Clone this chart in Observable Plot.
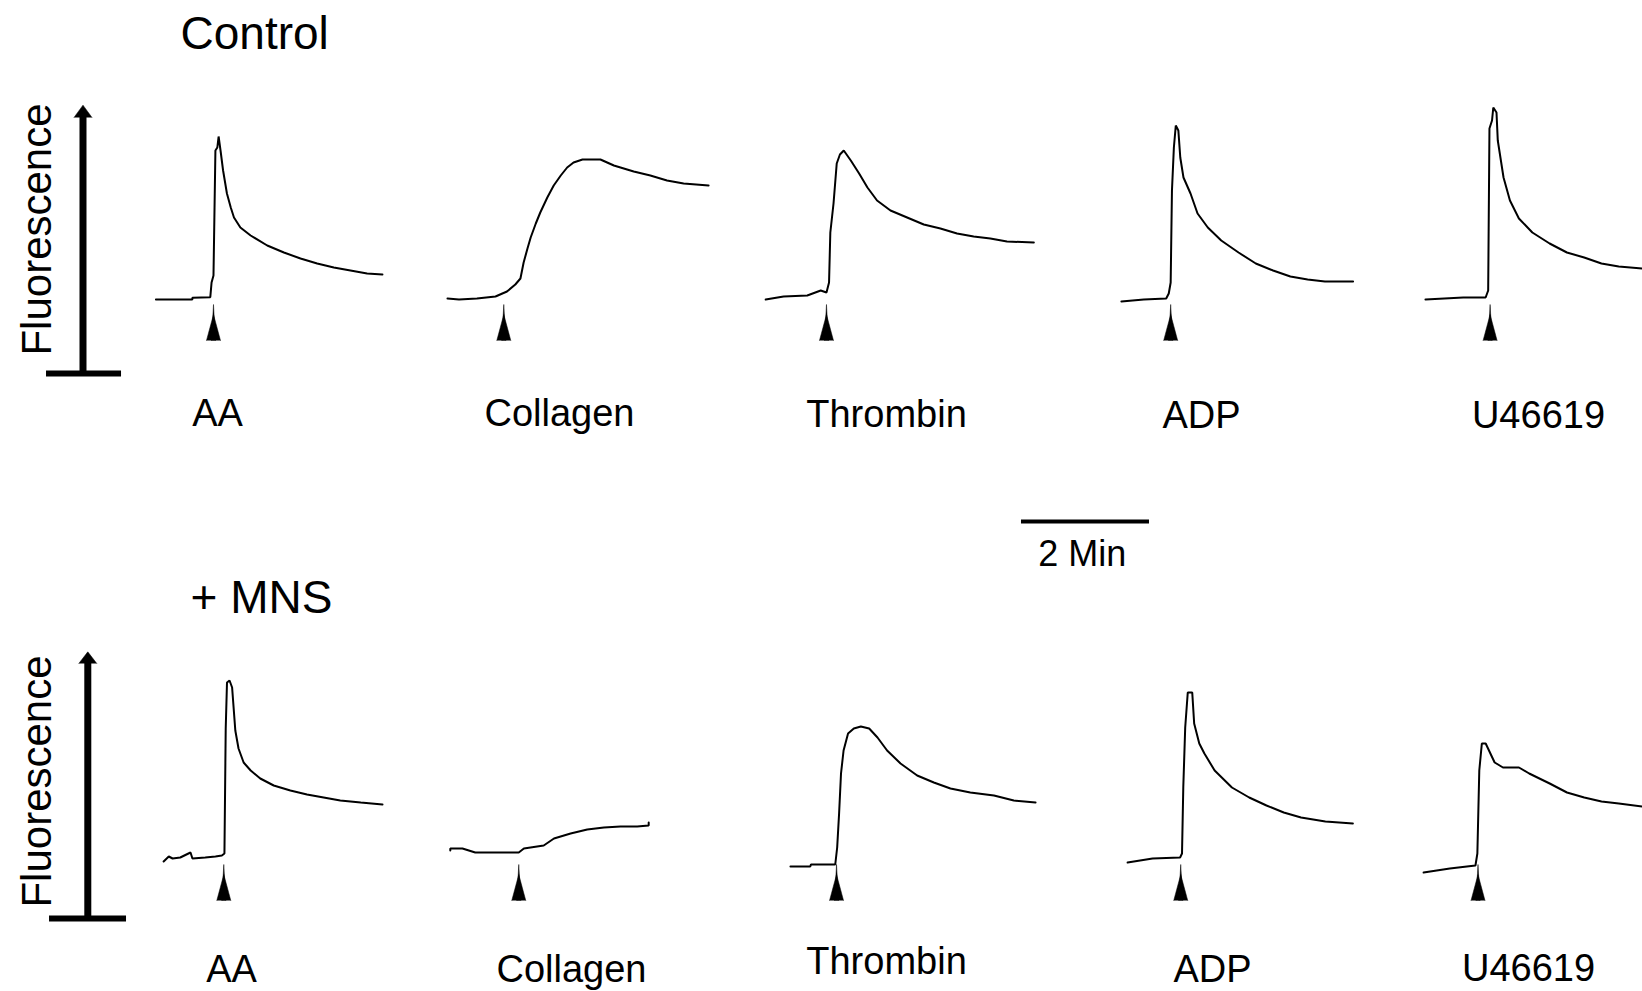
<!DOCTYPE html>
<html>
<head>
<meta charset="utf-8">
<script src="https://cdn.jsdelivr.net/npm/d3@7"></script>
<script src="https://cdn.jsdelivr.net/npm/@observablehq/plot@0.6"></script>
<style>
  html, body { margin: 0; padding: 0; background: #fff; overflow: hidden; }
  #chart svg { display: block; }
</style>
</head>
<body>
<div id="chart"></div>
<script>
// ---------- data ----------
const conditions = ["Control", "+ MNS"];
const agonists = ["AA", "Collagen", "Thrombin", "ADP", "U46619"];
const axisLabel = "Fluorescence";
const scaleBarMinutes = 2;
const scaleBarLabel = "2 Min";

// each trace: [time from agonist addition (min), fluorescence above baseline (a.u.)]
const controlAA = [[-0.90,0],[-0.33,0],[-0.33,1.7],[-0.05,2.3],[-0.03,17],[0.0,24],[0.03,149],[0.06,152],[0.08,163],[0.11,149],[0.15,129],[0.21,106],[0.27,92],[0.32,82],[0.42,72],[0.58,64],[0.84,54],[1.10,47],[1.36,41],[1.62,36],[1.88,32],[2.14,29],[2.40,26],[2.64,25]];
const controlCollagen = [[-0.88,1],[-0.70,0],[-0.42,1],[-0.13,3],[0.05,8],[0.18,15],[0.26,21],[0.31,37],[0.37,51],[0.42,62],[0.50,76],[0.57,87],[0.68,102],[0.78,114],[0.89,124],[0.99,132],[1.09,137],[1.23,140],[1.51,140],[1.72,134],[2.03,128],[2.29,124],[2.55,119],[2.81,116],[3.20,114]];
const controlThrombin = [[-0.95,0],[-0.67,3],[-0.30,4],[-0.09,9],[0,7],[0.04,17],[0.06,67],[0.11,96],[0.16,136],[0.21,145],[0.27,149],[0.38,139],[0.51,126],[0.64,112],[0.79,99],[1.00,89],[1.26,82],[1.52,75],[1.78,71],[2.04,66],[2.30,63],[2.56,61],[2.82,58],[3.24,57]];
const controlADP = [[-0.77,-2],[-0.42,0],[-0.07,1],[-0.03,6],[0,17],[0.02,109],[0.05,152],[0.08,174],[0.12,169],[0.15,142],[0.20,122],[0.31,106],[0.42,86],[0.58,72],[0.79,59],[1.06,47],[1.33,36],[1.60,29],[1.87,23],[2.14,20],[2.41,18],[2.85,18]];
const controlU46619 = [[-1.01,0],[-0.42,2],[-0.07,2],[-0.03,9],[-0.01,171],[0.03,179],[0.05,192],[0.10,187],[0.12,159],[0.21,122],[0.31,99],[0.45,81],[0.66,67],[0.93,56],[1.20,47],[1.47,42],[1.74,36],[2.01,33],[2.38,31]];

const mnsAA = [[-0.94,-1],[-0.86,4],[-0.80,2],[-0.68,3],[-0.52,8],[-0.49,2],[-0.29,3],[-0.13,4],[-0.03,5],[0.01,7],[0.03,132],[0.05,178],[0.09,180],[0.13,173],[0.18,130],[0.23,112],[0.31,98],[0.42,90],[0.57,82],[0.78,75],[1.04,70],[1.30,66],[1.56,63],[1.82,60],[2.14,58],[2.48,56]];
const mnsCollagen = [[-1.07,10],[-1.07,12],[-0.88,12],[-0.68,8],[0,8],[0.08,12],[0.39,15],[0.55,22],[0.81,27],[1.07,31],[1.33,33],[1.59,34],[1.85,34],[2.03,35],[2.03,38]];
const mnsThrombin = [[-0.72,-6],[-0.41,-6],[-0.40,-4],[-0.02,-4],[0.01,13],[0.04,47],[0.07,87],[0.11,110],[0.18,127],[0.27,132],[0.38,134],[0.51,132],[0.64,123],[0.79,110],[1.00,97],[1.26,85],[1.52,78],[1.78,72],[2.09,68],[2.46,65],[2.77,60],[3.11,58]];
const mnsADP = [[-0.83,-2],[-0.44,2],[-0.01,3],[0.02,7],[0.04,73],[0.07,133],[0.11,168],[0.18,168],[0.21,137],[0.29,117],[0.37,107],[0.53,90],[0.80,73],[1.07,63],[1.34,55],[1.61,48],[1.88,43],[2.26,39],[2.69,37]];
const mnsU46619 = [[-0.85,-12],[-0.44,-8],[-0.04,-5],[-0.01,7],[0.02,90],[0.06,117],[0.12,117],[0.26,98],[0.39,93],[0.64,93],[0.80,87],[1.12,77],[1.39,68],[1.66,63],[1.93,59],[2.20,57],[2.57,54]];

const traces = [
  [controlAA, controlCollagen, controlThrombin, controlADP, controlU46619],
  [mnsAA, mnsCollagen, mnsThrombin, mnsADP, mnsU46619]
];

// ---------- layout (figure time axis in min, vertical axis in a.u.) ----------
const W = 1642, H = 991, PX_PER_MIN = 64;
const rowBase = [692, 131];                 // baseline of each row
const addAt = [[3.328, 7.864, 12.906, 18.284, 23.275],
               [3.489, 8.098, 13.063, 18.441, 23.086]];   // agonist addition
const arrowBase = [-41, -40];               // injection marker below baseline
const labelAt = [[3.391, 8.734, 13.844, 18.766, 24.031],
                 [3.609, 8.922, 13.844, 18.938, 23.875]];
const labelY = [[566, 566, 565, 564, 564], [10, 10, 18, 10, 11]];
const titleAt = [{x: 2.8125, y: 943}, {x: 2.969, y: 379}];
const axisAt = [
  {x: 1.289, foot: 618, head: 874, headLen: 17, fx1: 0.719, fx2: 1.891, ly: 762},
  {x: 1.364, foot: 73, head: 328, headLen: 16, fx1: 0.766, fx2: 1.969, ly: 210}
];
const scaleBar = {x1: 15.953, y: 470, ly: 426};

// ---------- derived tables ----------
const lineRows = [];
const markers = [];
const labels = [];
conditions.forEach((c, i) => {
  agonists.forEach((a, j) => {
    traces[i][j].forEach(([t, f]) => lineRows.push({key: c + "|" + a, x: addAt[i][j] + t, y: rowBase[i] + f}));
    markers.push({x: addAt[i][j], y: rowBase[i] + arrowBase[i]});
    labels.push({x: labelAt[i][j], y: labelY[i][j], text: a});
  });
});
const titles = conditions.map((c, i) => ({...titleAt[i], text: c}));
const FONT = "Liberation Sans, Arial, Helvetica, sans-serif";

const chart = Plot.plot({
  width: W, height: H, margin: 0,
  x: {domain: [0, W / PX_PER_MIN], axis: null},
  y: {domain: [0, H], axis: null},
  style: {background: "white", color: "black", overflow: "hidden"},
  marks: [
    // traces
    Plot.line(lineRows, {x: "x", y: "y", z: "key", stroke: "black", strokeWidth: 2, strokeLinejoin: "miter"}),
    // agonist addition markers: wide body plus thin tip
    Plot.vector(markers, {x: "x", y: "y", length: 26, r: 7, shape: "spike", anchor: "start", fill: "black", stroke: "black", strokeWidth: 0.5}),
    Plot.vector(markers, {x: "x", y: "y", length: 36, r: 2, shape: "spike", anchor: "start", fill: "black", stroke: "black", strokeWidth: 0.5}),
    // fluorescence axis arrows
    Plot.ruleX(axisAt, {x: "x", y1: "foot", y2: d => d.head + 4, stroke: "black", strokeWidth: 7}),
    Plot.vector(axisAt, {x: "x", y: "head", length: d => d.headLen, r: 9, shape: "spike", anchor: "start", fill: "black", stroke: "black", strokeWidth: 0.5}),
    Plot.ruleY(axisAt, {y: "foot", x1: "fx1", x2: "fx2", stroke: "black", strokeWidth: 6}),
    Plot.text(axisAt, {x: d => 50 / PX_PER_MIN, y: "ly", text: () => axisLabel, rotate: -90, lineAnchor: "bottom", textAnchor: "middle", fontSize: 42, fontFamily: FONT, fill: "black"}),
    // scale bar
    Plot.ruleY([scaleBar], {y: "y", x1: "x1", x2: d => d.x1 + scaleBarMinutes, stroke: "black", strokeWidth: 4}),
    Plot.text([scaleBar], {x: d => d.x1 + scaleBarMinutes / 2 - 0.05, y: "ly", text: () => scaleBarLabel, lineAnchor: "bottom", textAnchor: "middle", fontSize: 36, fontFamily: FONT, fill: "black"}),
    // condition titles
    Plot.text(titles, {x: "x", y: "y", text: "text", lineAnchor: "bottom", textAnchor: "start", fontSize: 46, fontFamily: FONT, fill: "black"}),
    // agonist labels
    Plot.text(labels, {x: "x", y: "y", text: "text", lineAnchor: "bottom", textAnchor: "middle", fontSize: 38, fontFamily: FONT, fill: "black"})
  ]
});
document.getElementById("chart").appendChild(chart);
</script>
</body>
</html>
